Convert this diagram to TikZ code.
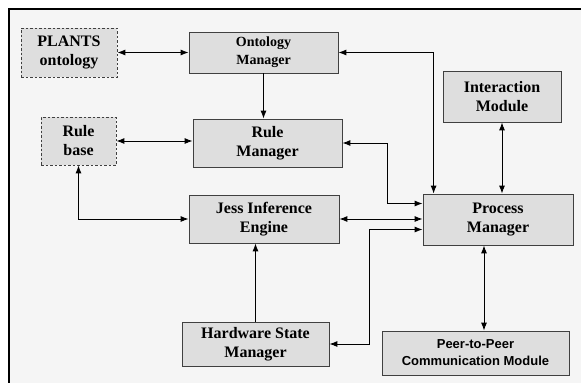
\documentclass[tikz,border=0pt]{standalone}
\usepackage{fontspec}
\setmainfont{Liberation Serif}
\newfontfamily\arialfont{Liberation Sans}
\usetikzlibrary{arrows.meta}
\definecolor{panelgray}{HTML}{F5F5F5}
\definecolor{boxgray}{HTML}{DEDEDE}
\definecolor{edgegray}{HTML}{404040}
\tikzset{
  >={Latex[length=8pt,width=6pt]},
  module/.style={draw=edgegray,fill=boxgray,line width=0.8pt,align=center,
    inner sep=0pt,font=\fontsize{16}{19}\selectfont\bfseries},
  store/.style={module,dashed,dash pattern=on 2.5pt off 2pt},
  link/.style={<->,line width=0.9pt}
}
\begin{document}
\begin{tikzpicture}[x=1pt,y=-1pt]
   \useasboundingbox (0,0) rectangle (581,383);
   \fill[white] (0,0) rectangle (581,383);
   \fill[panelgray] (8.5,9) rectangle (581,383);
   \draw[line width=2pt] (581,9) -- (8.5,9) -- (8.5,383);
   % boxes
   \node[store,minimum width=96pt,minimum height=49pt] (plants) at (69,52.5) {PLANTS\\ontology};
   \node[module,minimum width=149pt,minimum height=41pt,font=\fontsize{14}{18}\selectfont\bfseries] (onto) at (263.5,52.5) {Ontology\\Manager};
   \node[store,minimum width=75pt,minimum height=48pt] (rbase) at (78.5,141) {Rule\\base};
   \node[module,minimum width=149pt,minimum height=48pt] (rman) at (267.5,143) {Rule\\Manager};
   \node[module,minimum width=118pt,minimum height=51pt] (inter) at (502,96.5) {Interaction\\Module};
   \node[module,minimum width=150pt,minimum height=48pt] (jess) at (264,219) {Jess Inference\\Engine};
   \node[module,minimum width=150pt,minimum height=51pt] (proc) at (498,219.5) {Process\\Manager};
   \node[module,minimum width=147pt,minimum height=44pt] (hw) at (255.5,344) {Hardware State\\Manager};
   \node[module,minimum width=187pt,minimum height=44pt,font=\fontsize{13}{17}\selectfont\bfseries\arialfont] (p2p) at (475.5,353) {Peer-to-Peer\\Communication Module};
   % links
   \draw[link] (plants.east) -- (onto.west);
   \draw[->,line width=0.9pt] (onto.south) -- (onto.south |- rman.north);
   \draw[link] (rbase.east) -- (rbase.east -| rman.west);
   \draw[link] (rbase.south) |- (jess.west);
   \draw[link] (onto.east) -| ([xshift=11pt]proc.north west);
   \draw[link] (rman.east) -- ++(45,0) |- ([yshift=16pt]proc.west);
   \draw[link] (inter.south) -- (inter.south |- proc.north);
   \draw[link] (jess.east) -- (jess.east -| proc.west);
   \draw[link] (hw.east) -- ++(40,0) |- ([yshift=-10pt]proc.west);
   \draw[->,line width=0.9pt] (hw.north) -- (hw.north |- jess.south);
   \draw[link] ([xshift=-14pt]proc.south) -- ([xshift=-14pt]proc.south |- p2p.north);
\end{tikzpicture}
\end{document}
